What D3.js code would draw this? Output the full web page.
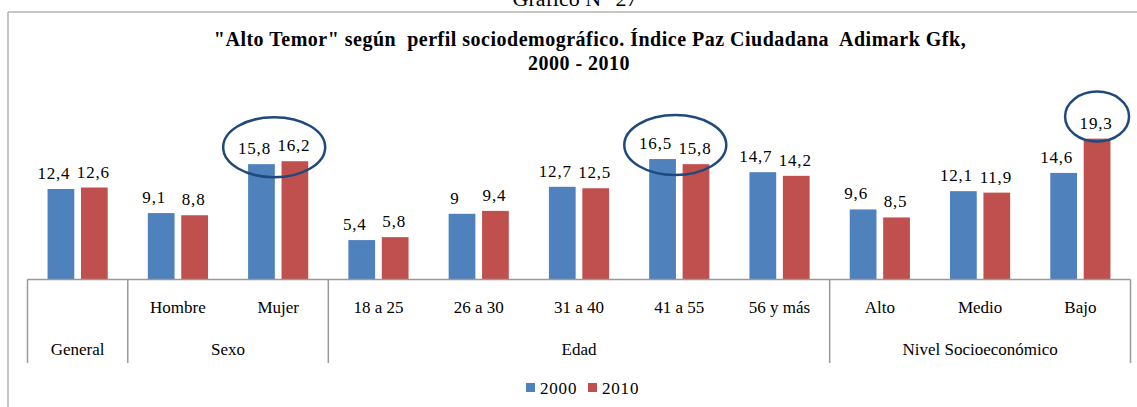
<!DOCTYPE html>
<html>
<head>
<meta charset="utf-8">
<script src="https://cdn.jsdelivr.net/npm/d3@7"></script>
<style>
  body { margin: 0; background: #fff; }
  text { font-family: "Liberation Serif", serif; fill: #000; }
</style>
</head>
<body>
<svg id="chart"></svg>
<script>
// Chart data
const categories = ["General", "Hombre", "Mujer", "18 a 25", "26 a 30", "31 a 40", "41 a 55", "56 y más", "Alto", "Medio", "Bajo"];
const subLabels = ["", "Hombre", "Mujer", "18 a 25", "26 a 30", "31 a 40", "41 a 55", "56 y más", "Alto", "Medio", "Bajo"];
const groupNames = ["General", "Sexo", "Edad", "Nivel Socioeconómico"];
const groupSizes = [1, 2, 5, 3];
const seriesNames = ["2000", "2010"];
const values2000 = [12.4, 9.1, 15.8, 5.4, 9, 12.7, 16.5, 14.7, 9.6, 12.1, 14.6];
const values2010 = [12.6, 8.8, 16.2, 5.8, 9.4, 12.5, 15.8, 14.2, 8.5, 11.9, 19.3];
const seriesColors = ["#4f81bd", "#c0504d"];
// circled labels in the original
const highlightCats = ["Mujer", "41 a 55", "Bajo"];
const highlightSeries = [["2000", "2010"], ["2000", "2010"], ["2010"]];

const W = 1137, H = 407;
const baseY = 279.5;

const svg = d3.select("#chart").attr("width", W).attr("height", H);

// frame of the figure
svg.append("line").attr("x1", 8).attr("x2", W).attr("y1", 12).attr("y2", 12)
  .attr("stroke", "#b3b3b3").attr("stroke-width", 1.5);
svg.append("line").attr("x1", 8).attr("x2", 8).attr("y1", 12).attr("y2", H)
  .attr("stroke", "#b3b3b3").attr("stroke-width", 1.5);

// caption above the frame (cut off at the top, as in the original)
svg.append("text").attr("x", 575).attr("y", 6).attr("text-anchor", "middle")
  .style("font-size", "22px").text("Gráfico N° 27");

// Title
svg.append("text").attr("x", 590).attr("y", 46).attr("text-anchor", "middle")
  .style("font-size", "20px").style("font-weight", "bold")
  .style("letter-spacing", "0.5px").style("white-space", "pre")
  .text("\"Alto Temor\" según  perfil sociodemográfico. Índice Paz Ciudadana  Adimark Gfk,");
svg.append("text").attr("x", 579).attr("y", 70).attr("text-anchor", "middle")
  .style("font-size", "20px").style("font-weight", "bold")
  .style("letter-spacing", "0.5px").style("white-space", "pre")
  .text("2000 - 2010");

// Scales
const x = d3.scaleBand().domain(categories).range([27.5, 1130.5]).padding(0);
const xInner = d3.scaleBand().domain(seriesNames)
  .range([0.2 * x.bandwidth(), 0.8 * x.bandwidth()]).paddingInner(0.2);
const y = d3.scaleLinear().domain([0, 20]).range([baseY, baseY - 20 * 7.3]);

const fmt = v => String(v).replace(".", ",");

const rows = categories.map((c, i) => ({ cat: c, vals: [values2000[i], values2010[i]] }));

// Bars
const g = svg.append("g").selectAll("g").data(rows).join("g")
  .attr("transform", d => `translate(${x(d.cat)},0)`);

g.selectAll("rect").data(d => d.vals.map((v, k) => ({ s: seriesNames[k], v, k }))).join("rect")
  .attr("x", d => xInner(d.s))
  .attr("width", xInner.bandwidth())
  .attr("y", d => y(d.v))
  .attr("height", d => baseY - y(d.v))
  .attr("fill", d => seriesColors[d.k]);

// Value labels (the 2000 labels sit a bit to the left in the original)
g.selectAll("text").data(d => d.vals.map((v, k) => ({ s: seriesNames[k], v, k }))).join("text")
  .attr("x", d => xInner(d.s) + xInner.bandwidth() / 2 + (d.k === 0 ? -7 : -1))
  .attr("y", d => y(d.v) - 10)
  .attr("text-anchor", "middle")
  .style("font-size", "17px").style("letter-spacing", "0.8px")
  .text(d => fmt(d.v));

// Category axis
const axis = svg.append("g");
axis.append("line").attr("x1", x.range()[0]).attr("x2", x.range()[1])
  .attr("y1", baseY).attr("y2", baseY).attr("stroke", "#999").attr("stroke-width", 1.5);

axis.selectAll("text.sub").data(categories).join("text").attr("class", "sub")
  .attr("x", d => x(d) + x.bandwidth() / 2)
  .attr("y", 313)
  .attr("text-anchor", "middle")
  .style("font-size", "17px")
  .text((d, i) => subLabels[i]);

// Group labels and separators
let start = 0;
const groups = groupNames.map((name, i) => {
  const gr = { name, from: start, to: start + groupSizes[i] };
  start += groupSizes[i];
  return gr;
});
const edges = [0].concat(groups.map(gr => gr.to));
axis.selectAll("line.sep").data(edges).join("line").attr("class", "sep")
  .attr("x1", i => i < categories.length ? x(categories[i]) : x.range()[1])
  .attr("x2", i => i < categories.length ? x(categories[i]) : x.range()[1])
  .attr("y1", baseY).attr("y2", 363)
  .attr("stroke", "#999").attr("stroke-width", 1.5);

axis.selectAll("text.grp").data(groups).join("text").attr("class", "grp")
  .attr("x", d => (x(categories[d.from]) + x(categories[d.to - 1]) + x.bandwidth()) / 2)
  .attr("y", 355)
  .attr("text-anchor", "middle")
  .style("font-size", "17px")
  .text(d => d.name);

// Circled annotations
highlightCats.forEach((c, i) => {
  const ser = highlightSeries[i];
  const idx = categories.indexOf(c);
  const vals = ser.map(s => (s === "2000" ? values2000 : values2010)[idx]);
  const cx = x(c) + d3.mean(ser, s => xInner(s) + xInner.bandwidth() / 2);
  const pair = ser.length > 1;
  svg.append("ellipse")
    .attr("cx", pair ? cx - 4 : cx)
    .attr("cy", y(d3.max(vals)) - (pair ? 14 : 22))
    .attr("rx", pair ? 51 : 32)
    .attr("ry", pair ? 30 : 25)
    .attr("fill", "none").attr("stroke", "#1f497d").attr("stroke-width", 2.5);
});

// Legend
const legend = svg.append("g").selectAll("g").data(seriesNames).join("g")
  .attr("transform", (d, i) => `translate(${526 + i * 62},383)`);
legend.append("rect").attr("width", 9).attr("height", 9).attr("fill", (d, i) => seriesColors[i]);
legend.append("text").attr("x", 14).attr("y", 11)
  .style("font-size", "17px").style("letter-spacing", "0.8px").text(d => d);
</script>
</body>
</html>
